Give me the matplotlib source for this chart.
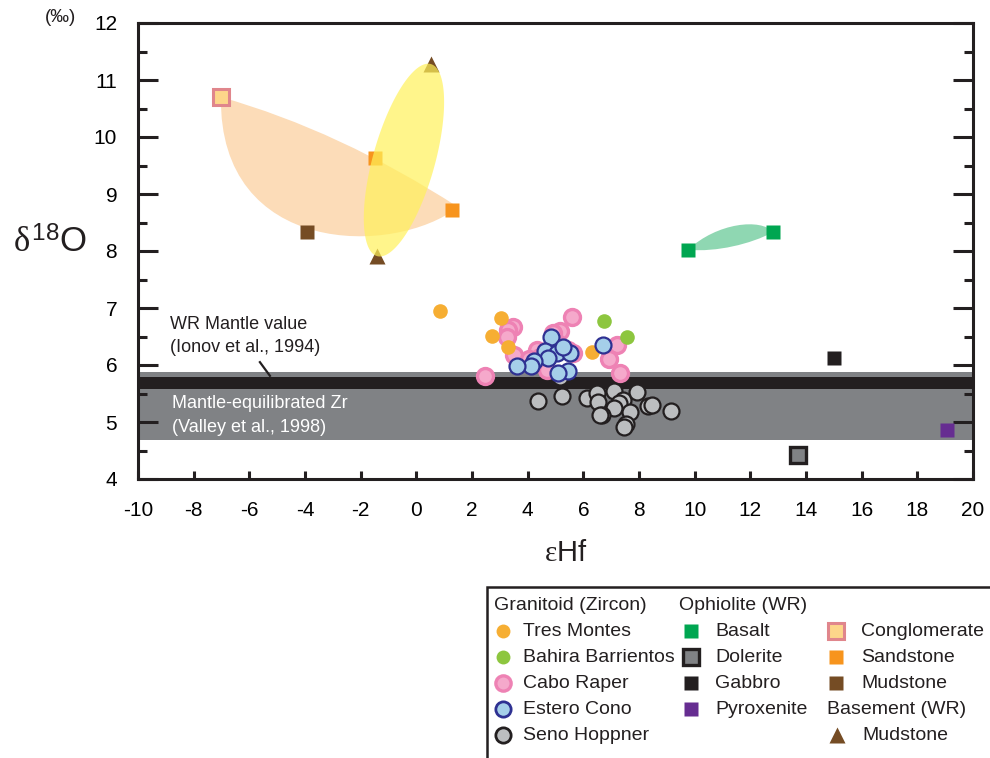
import numpy as np
import matplotlib
matplotlib.use('Agg')
import matplotlib.pyplot as plt
from matplotlib.path import Path
from matplotlib.patches import PathPatch, Rectangle, Polygon
from matplotlib.ticker import MultipleLocator

plt.rcParams['font.family'] = ['Liberation Sans', 'DejaVu Sans']
plt.rcParams['axes.unicode_minus'] = False
plt.rcParams['mathtext.fontset'] = 'custom'
plt.rcParams['mathtext.rm'] = 'Liberation Sans'
plt.rcParams['mathtext.it'] = 'Liberation Serif'

# ---- data (eHf, d18O) ----
tres_montes_x = [0.85, 3.04, 2.72, 3.30, 6.31]
tres_montes_y = [6.95, 6.82, 6.51, 6.32, 6.23]

bahira_x = [6.74, 7.57]
bahira_y = [6.77, 6.49]

cabo_raper_x = [5.59, 3.47, 3.30, 3.26, 3.51, 2.47, 5.16, 4.91, 4.34, 4.45, 4.70,
                5.45, 5.63, 7.21, 6.92, 7.32, 4.05, 5.00]
cabo_raper_y = [6.84, 6.67, 6.61, 6.49, 6.18, 5.81, 6.60, 6.56, 6.26, 6.14, 5.91,
                6.26, 6.21, 6.35, 6.11, 5.86, 6.10, 6.40]

estero_x = [4.84, 4.62, 5.06, 5.52, 5.27, 4.73, 4.23, 4.12, 3.62, 5.45, 5.09, 6.71]
estero_y = [6.49, 6.25, 6.21, 6.21, 6.32, 6.12, 6.07, 5.98, 5.98, 5.89, 5.86, 6.35]

seno_x = [4.37, 5.24, 6.13, 6.49, 6.53, 7.10, 7.43, 7.28, 7.10, 7.93, 6.67, 6.60,
          7.68, 7.54, 7.46, 8.33, 8.47, 9.15, 5.16]
seno_y = [5.37, 5.46, 5.42, 5.51, 5.35, 5.54, 5.39, 5.33, 5.25, 5.53, 5.12, 5.13,
          5.18, 4.96, 4.91, 5.28, 5.30, 5.19, 5.79]

basalt_x, basalt_y = [9.76, 12.82], [8.02, 8.33]
dolerite_x, dolerite_y = [13.72], [4.42]
gabbro_x, gabbro_y = [15.01], [6.12]
pyroxenite_x, pyroxenite_y = [19.07], [4.86]
conglomerate_x, conglomerate_y = [-7.02], [10.70]
sandstone_x, sandstone_y = [-1.48, 1.28], [9.63, 8.72]
mudstone_x, mudstone_y = [-3.93], [8.33]
basement_x, basement_y = [0.52, -1.41], [11.28, 7.91]

zircon_band = (4.68, 5.88)    # Valley et al., 1998
mantle_band = (5.58, 5.79)    # Ionov et al., 1994

xlim = (-10, 20)
ylim = (4, 12)

# ---- colours ----
c_tres = '#f6ae33'
c_bahira = '#8dc63f'
c_cabo_f, c_cabo_e = '#f5a9cb', '#ee82b4'
c_est_f, c_est_e = '#a5cfe9', '#2e3192'
c_seno_f, c_seno_e = '#bcbec0', '#231f20'
c_basalt = '#00a651'
c_dol_f, c_dol_e = '#808285', '#231f20'
c_gabbro = '#231f20'
c_pyrox = '#662d91'
c_cong_f, c_cong_e = '#fdd68a', '#e0868c'
c_sand = '#f7941d'
c_mud = '#754c24'

fig = plt.figure(figsize=(9.9, 7.58), dpi=100)
W, H = 990, 758
ax = fig.add_axes([138 / W, 1 - 479 / H, (973 - 138) / W, (479 - 23) / H])
ax.set_xlim(*xlim)
ax.set_ylim(*ylim)

# pixel scale of the data axes (for the rotated ellipse)
sx = (973 - 138) / (xlim[1] - xlim[0])
sy = (479 - 23) / (ylim[1] - ylim[0])

# bands
ax.axhspan(*zircon_band, color='#808285', lw=0, zorder=1)
ax.axhspan(*mantle_band, color='#231f20', lw=0, zorder=1.1)


def bez_side(p0, c1, c2, p1):
    return [p0, c1, c2, p1]


def lens(upper, lower, color, z, alpha=1.0):
    # upper: p0,c1,c2,p1 ; lower goes back p1 -> p0
    verts = [upper[0], upper[1], upper[2], upper[3], lower[2], lower[1], lower[0], upper[0]]
    codes = [Path.MOVETO, Path.CURVE4, Path.CURVE4, Path.CURVE4,
             Path.CURVE4, Path.CURVE4, Path.CURVE4, Path.CLOSEPOLY]
    ax.add_patch(PathPatch(Path(verts, codes), facecolor=color, edgecolor='none',
                           alpha=alpha, zorder=z))


# sedimentary envelope (conglomerate - sandstone - mudstone)
p0 = np.array([conglomerate_x[0], conglomerate_y[0]])
p1 = np.array([sandstone_x[1] + 0.22, sandstone_y[1] + 0.05])
up = bez_side(p0, p0 + (p1 - p0) / 3 + [0, 0.25], p0 + 2 * (p1 - p0) / 3 + [0, 0.25], p1)
lo = bez_side(p0, [p0[0] - 0.08, mudstone_y[0] - 0.43], [sandstone_x[0] + 0.68, mudstone_y[0] - 0.43], p1)
lens(up, lo, '#fcdcb8', 2)

# basalt envelope
b0 = np.array([basalt_x[0], basalt_y[0]])
b1 = np.array([basalt_x[1], basalt_y[1]])
up = bez_side(b0, [b0[0] + 1.04, b0[1] + 0.48], [b1[0] - 0.42, b1[1] + 0.25], b1)
lo = bez_side(b0, [b0[0] + 1.04, b0[1] - 0.04], [b1[0] - 0.82, b1[1] - 0.21], b1)
lens(up, lo, '#8fd7b2', 2)

# basement envelope (rotated ellipse between the two triangles)
t0 = np.array([basement_x[0] * sx, basement_y[0] * sy])
t1 = np.array([basement_x[1] * sx, basement_y[1] * sy])
cen = (t0 + t1) / 2
axis_v = (t0 - t1) / 2
a = np.hypot(*axis_v)
u = axis_v / a
v = np.array([-u[1], u[0]])
b = 31.0
t = np.linspace(0, 2 * np.pi, 200)
pts = cen + np.outer(a * np.cos(t), u) + np.outer(b * np.sin(t), v)
pts = pts / [sx, sy]
ax.add_patch(Polygon(pts, closed=True, facecolor='#fff15a', edgecolor='none', alpha=0.7, zorder=6))

# ---- markers ----
ms_c = 11.5
ax.plot(seno_x, seno_y, 'o', ms=ms_c, mfc=c_seno_f, mec=c_seno_e, mew=1.6, zorder=3)
ax.plot(cabo_raper_x, cabo_raper_y, 'o', ms=ms_c, mfc=c_cabo_f, mec=c_cabo_e, mew=2.4, zorder=3.1)
ax.plot(tres_montes_x, tres_montes_y, 'o', ms=10.5, mfc=c_tres, mec='none', zorder=3.2)
ax.plot(bahira_x, bahira_y, 'o', ms=10.5, mfc=c_bahira, mec='none', zorder=3.2)
ax.plot(estero_x, estero_y, 'o', ms=ms_c, mfc=c_est_f, mec=c_est_e, mew=1.6, zorder=3.3)

ms_s = 10
ax.plot(basalt_x, basalt_y, 's', ms=ms_s, mfc=c_basalt, mec='none', zorder=4)
ax.plot(dolerite_x, dolerite_y, 's', ms=11, mfc=c_dol_f, mec=c_dol_e, mew=2.4, zorder=4)
ax.plot(gabbro_x, gabbro_y, 's', ms=ms_s, mfc=c_gabbro, mec='none', zorder=4)
ax.plot(pyroxenite_x, pyroxenite_y, 's', ms=ms_s, mfc=c_pyrox, mec='none', zorder=4)
ax.plot(conglomerate_x, conglomerate_y, 's', ms=11, mfc=c_cong_f, mec=c_cong_e, mew=2.2, zorder=4)
ax.plot(sandstone_x, sandstone_y, 's', ms=ms_s, mfc=c_sand, mec='none', zorder=4)
ax.plot(mudstone_x, mudstone_y, 's', ms=ms_s, mfc=c_mud, mec='none', zorder=4)
ax.plot(basement_x, basement_y, '^', ms=12, mfc=c_mud, mec='none', zorder=4)

# ---- annotations ----
ax.text(-8.85, 6.63, 'WR Mantle value', fontsize=13, va='baseline', color='#231f20', zorder=7)
ax.text(-8.85, 6.23, '(Ionov et al., 1994)', fontsize=13, va='baseline', color='#231f20', zorder=7)
ax.plot([-5.62, -5.26], [6.05, 5.81], color='#231f20', lw=1.6, zorder=7)
ax.text(-8.78, 5.25, 'Mantle-equilibrated Zr', fontsize=13, va='baseline', color='white', zorder=7)
ax.text(-8.78, 4.82, '(Valley et al., 1998)', fontsize=13, va='baseline', color='white', zorder=7)

# ---- axes styling ----
for s in ax.spines.values():
    s.set_linewidth(2.2)
    s.set_color('#231f20')
ax.xaxis.set_major_locator(MultipleLocator(2))
ax.yaxis.set_major_locator(MultipleLocator(1))
ax.yaxis.set_minor_locator(MultipleLocator(0.5))
ax.tick_params(axis='y', which='both', direction='in', left=True, right=True, width=2.2,
               color='#231f20', labelsize=15, pad=15)
ax.tick_params(axis='y', which='major', length=14.5)
ax.tick_params(axis='y', which='minor', length=6.5)
ax.tick_params(axis='x', which='major', direction='in', length=6, width=2.2, top=False,
               color='#231f20', labelsize=15, pad=16)

fig.text(50 / W, 1 - 243 / H, r'$\delta^{\mathrm{18}}\mathrm{O}$', fontsize=25,
         ha='center', va='center', color='#231f20')
fig.text(566 / W, 1 - 553 / H, r'$\varepsilon\mathrm{Hf}$', fontsize=21,
         ha='center', va='center', color='#231f20')
fig.text(61 / W, 1 - 18 / H, '(‰)', fontsize=13.5, ha='center', va='center', color='#231f20')

# ---- legend (drawn in pixel space) ----
lax = fig.add_axes([0, 0, 1, 1])
lax.set_xlim(0, W)
lax.set_ylim(H, 0)
lax.axis('off')
lax.add_patch(Rectangle((487, 587), 520, 190, facecolor='white', edgecolor='#231f20', lw=1.8))

rows = [605, 631, 657, 683, 709, 735]
fs = 14
col1 = [('Tres Montes', dict(marker='o', ms=10, mfc=c_tres, mec='none')),
        ('Bahira Barrientos', dict(marker='o', ms=10, mfc=c_bahira, mec='none')),
        ('Cabo Raper', dict(marker='o', ms=11, mfc=c_cabo_f, mec=c_cabo_e, mew=2.4)),
        ('Estero Cono', dict(marker='o', ms=11, mfc=c_est_f, mec=c_est_e, mew=2.0)),
        ('Seno Hoppner', dict(marker='o', ms=11, mfc=c_seno_f, mec=c_seno_e, mew=2.0))]
col2 = [('Basalt', dict(marker='s', ms=10, mfc=c_basalt, mec='none')),
        ('Dolerite', dict(marker='s', ms=11, mfc=c_dol_f, mec=c_dol_e, mew=2.4)),
        ('Gabbro', dict(marker='s', ms=10, mfc=c_gabbro, mec='none')),
        ('Pyroxenite', dict(marker='s', ms=10, mfc=c_pyrox, mec='none'))]
col3 = [('Conglomerate', dict(marker='s', ms=11, mfc=c_cong_f, mec=c_cong_e, mew=2.2)),
        ('Sandstone', dict(marker='s', ms=10, mfc=c_sand, mec='none')),
        ('Mudstone', dict(marker='s', ms=10, mfc=c_mud, mec='none'))]

lax.text(494, rows[0], 'Granitoid (Zircon)', fontsize=fs, va='center', color='#231f20')
lax.text(679, rows[0], 'Ophiolite (WR)', fontsize=fs, va='center', color='#231f20')
for i, (lab, st) in enumerate(col1):
    lax.plot([503], [rows[i + 1]], linestyle='none', **st)
    lax.text(523, rows[i + 1], lab, fontsize=fs, va='center', color='#231f20')
for i, (lab, st) in enumerate(col2):
    lax.plot([691], [rows[i + 1]], linestyle='none', **st)
    lax.text(715, rows[i + 1], lab, fontsize=fs, va='center', color='#231f20')
for i, (lab, st) in enumerate(col3):
    lax.plot([836], [rows[i + 1]], linestyle='none', **st)
    lax.text(861, rows[i + 1], lab, fontsize=fs, va='center', color='#231f20')
lax.text(827, rows[4], 'Basement (WR)', fontsize=fs, va='center', color='#231f20')
lax.plot([837], [rows[5]], linestyle='none', marker='^', ms=12, mfc=c_mud, mec='none')
lax.text(862, rows[5], 'Mudstone', fontsize=fs, va='center', color='#231f20')

fig.savefig('out.png', dpi=100)
